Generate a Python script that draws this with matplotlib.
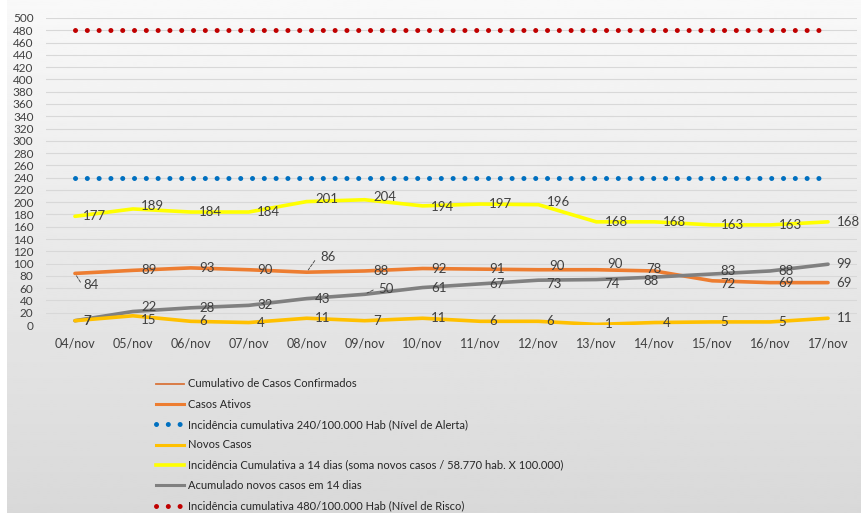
import numpy as np
import matplotlib.pyplot as plt
from matplotlib.lines import Line2D

plt.rcParams['font.family'] = ['Lato', 'DejaVu Sans']

# data
dias = ['04/nov', '05/nov', '06/nov', '07/nov', '08/nov', '09/nov', '10/nov',
        '11/nov', '12/nov', '13/nov', '14/nov', '15/nov', '16/nov', '17/nov']
casos_ativos = [84, 89, 93, 90, 86, 88, 92, 91, 90, 90, 88, 72, 69, 69]
novos_casos = [7, 15, 6, 4, 11, 7, 11, 6, 6, 1, 4, 5, 5, 11]
incidencia_14d = [177, 189, 184, 184, 201, 204, 194, 197, 196, 168, 168, 163, 163, 168]
acumulado_14d = [7, 22, 28, 32, 43, 50, 61, 67, 73, 74, 78, 83, 88, 99]
nivel_alerta = [240] * 14
nivel_risco = [480] * 14

x = np.arange(len(dias))

fig = plt.figure(figsize=(8.61, 5.13), dpi=100)

# gradient background
bg = fig.add_axes([7 / 861, 0, 1 - 7 / 861, 1])
grad = np.linspace(0.975, 0.85, 256).reshape(-1, 1)
bg.imshow(grad, aspect='auto', cmap='gray', vmin=0, vmax=1, extent=[0, 1, 0, 1])
bg.axis('off')

ax = fig.add_axes([46 / 861, 1 - 325 / 513, (857 - 46) / 861, (325 - 18) / 513])
ax.patch.set_alpha(0)
ax.set_xlim(-0.5, 13.5)
ax.set_ylim(0, 500)
ax.set_yticks(range(0, 501, 20))
ax.set_xticks(x)
ax.set_xticklabels(dias)
ax.grid(axis='y', color='#d8d8d8', lw=0.8)
ax.set_axisbelow(True)
for s in ax.spines.values():
    s.set_visible(False)
ax.tick_params(axis='y', length=0, pad=9, labelsize=8.5, labelcolor='#404040')
ax.tick_params(axis='x', length=0, pad=9, labelsize=9, labelcolor='#404040')

dots = (0, (0.01, 2.35))
ax.plot(x, nivel_risco, color='#c00000', lw=3.6, linestyle=dots, dash_capstyle='round')
ax.plot(x, nivel_alerta, color='#0070c0', lw=3.6, linestyle=dots, dash_capstyle='round')
ax.plot(x, incidencia_14d, color='#ffff00', lw=2.6, solid_capstyle='round')
ax.plot(x, casos_ativos, color='#ed7d31', lw=2.6, solid_capstyle='round')
ax.plot(x, acumulado_14d, color='#808080', lw=2.6, solid_capstyle='round')
ax.plot(x, novos_casos, color='#ffc000', lw=2.6, solid_capstyle='round')

# data labels
def labels(vals, special={}):
    for i, v in enumerate(vals):
        off = special.get(i, (6, 0))
        ax.annotate(str(v), (i, v), xytext=off, textcoords='offset points',
                    ha='left', va='center', fontsize=9.5, color='#404040')

labels(incidencia_14d, {1: (6, 2), 4: (6, 2), 5: (6, 2), 6: (6, -1), 8: (6, 2)})
labels(casos_ativos, {0: (6, -8), 4: (10, 11), 8: (8, 3), 9: (8, 4), 10: (-8, -7), 11: (6, -2)})
labels(acumulado_14d, {1: (6, 3), 5: (10, 4), 8: (6, -3), 9: (6, -3), 10: (-6, 6), 11: (6, 2)})
labels(novos_casos, {1: (6, -3)})

# leader lines
for (i, v, dx, dy) in [(0, 84, 5, -8), (4, 86, 7, 10), (5, 50, 8, 4)]:
    ax.annotate('', (i, v), xytext=(dx, dy), textcoords='offset points',
                arrowprops=dict(arrowstyle='-', lw=0.6, color='#404040', ls='--'))

handles = [
    Line2D([], [], color='#d9743a', lw=1.3),
    Line2D([], [], color='#ed7d31', lw=2.2),
    Line2D([], [], color='#0070c0', lw=3.6, linestyle=dots, dash_capstyle='round'),
    Line2D([], [], color='#ffc000', lw=2.2),
    Line2D([], [], color='#ffff00', lw=2.6),
    Line2D([], [], color='#808080', lw=2.2),
    Line2D([], [], color='#c00000', lw=3.6, linestyle=dots, dash_capstyle='round'),
]
names = [
    'Cumulativo de Casos Confirmados',
    'Casos Ativos',
    'Incidência cumulativa 240/100.000 Hab (Nível de Alerta)',
    'Novos Casos',
    'Incidência Cumulativa a 14 dias (soma novos casos / 58.770 hab. X 100.000)',
    'Acumulado novos casos em 14 dias',
    'Incidência cumulativa 480/100.000 Hab (Nível de Risco)',
]
leg = fig.legend(handles, names, loc='upper left', bbox_to_anchor=(152 / 861, 1 - 374 / 513),
                 frameon=False, fontsize=8, handlelength=2.5, handletextpad=0.35,
                 labelspacing=0.84, borderaxespad=0)
for t in leg.get_texts():
    t.set_color('#262626')

fig.savefig('out.png', dpi=100)
